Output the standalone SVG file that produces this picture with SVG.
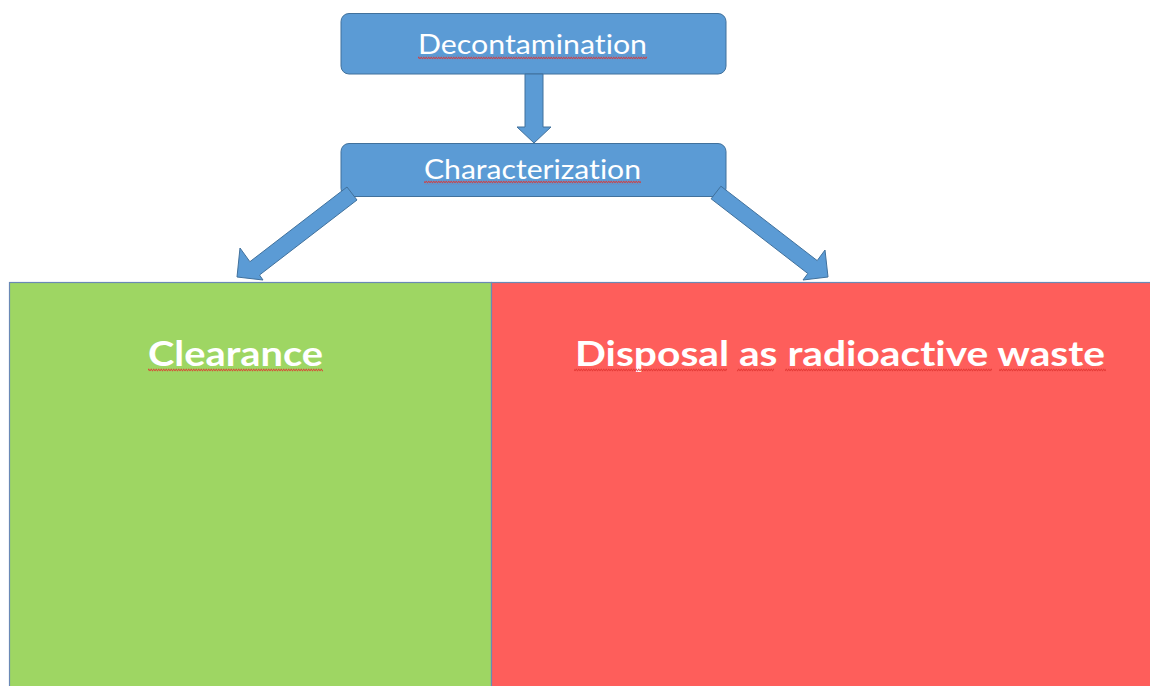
<svg xmlns="http://www.w3.org/2000/svg" width="1150" height="686" viewBox="0 0 1150 686">
<style>
.box{fill:#5B9BD5;stroke:#41719C;stroke-width:1}
.arr{fill:#5B9BD5;stroke:#41719C;stroke-width:1;stroke-linejoin:miter}
.lbl{font-family:Lato,"Open Sans","Liberation Sans",sans-serif;fill:#FFFFFF;text-anchor:middle;font-variant-ligatures:none;font-feature-settings:"liga" 0}
.big{font-weight:bold;font-size:35px}
.sm{font-size:27px}
.sq{fill:url(#squig)}
</style>
<defs>
<pattern id="squig" x="0" y="0" width="5" height="4" patternUnits="userSpaceOnUse">
<path d="M0,3.2 L1.25,0.8 L2.5,3.2 L3.75,0.8 L5,3.2" fill="none" stroke="#E0312D" stroke-width="0.8"/>
</pattern>
</defs>
<rect width="1150" height="686" fill="#FFFFFF"/>
<g id="clearance">
<rect x="9.5" y="282.5" width="482" height="410" fill="#9ED663" stroke="#6A89B5" stroke-width="1.2"/>
<text class="lbl big" x="235.5" y="366" textLength="175" lengthAdjust="spacingAndGlyphs">Clearance</text>
<rect class="sq" x="148" y="368" width="175" height="4"/>
</g>
<g id="disposal">
<rect x="491.5" y="282.5" width="670" height="410" fill="#FE5E5B" stroke="#6A89B5" stroke-width="1.2"/>
<text class="lbl big" x="840" y="366" textLength="530" lengthAdjust="spacingAndGlyphs">Disposal as radioactive waste</text>
<rect class="sq" x="574" y="368" width="153" height="4"/>
<rect class="sq" x="737" y="368" width="37" height="4"/>
<rect class="sq" x="785" y="368" width="207" height="4"/>
<rect class="sq" x="999" y="368" width="107" height="4"/>
</g>
<g id="decontamination">
<rect class="box" x="341" y="13.5" width="385" height="60.5" rx="8" ry="8"/>
<text class="lbl sm" x="532.5" y="54" textLength="229" lengthAdjust="spacingAndGlyphs">Decontamination</text>
<rect class="sq" x="418" y="55.5" width="229" height="4"/>
</g>
<g id="characterization">
<rect class="box" x="341" y="143.5" width="385" height="53" rx="8" ry="8"/>
<text class="lbl sm" x="532.5" y="179" textLength="217" lengthAdjust="spacingAndGlyphs">Characterization</text>
<rect class="sq" x="424" y="180.5" width="217" height="4"/>
</g>
<g id="connectors">
<polygon class="arr" points="525,74 543,74 543,127 551,127 534,143 517,127 525,127"/>
<polygon class="arr" points="347,187 249.9,261.7 240,248 237,277 263,280 259.5,275 357,200"/>
<polygon class="arr" points="720.9,186.2 817.2,260.6 825,250 828,277 803,280 807.8,273.5 711.1,198.8"/>
</g>
</svg>
